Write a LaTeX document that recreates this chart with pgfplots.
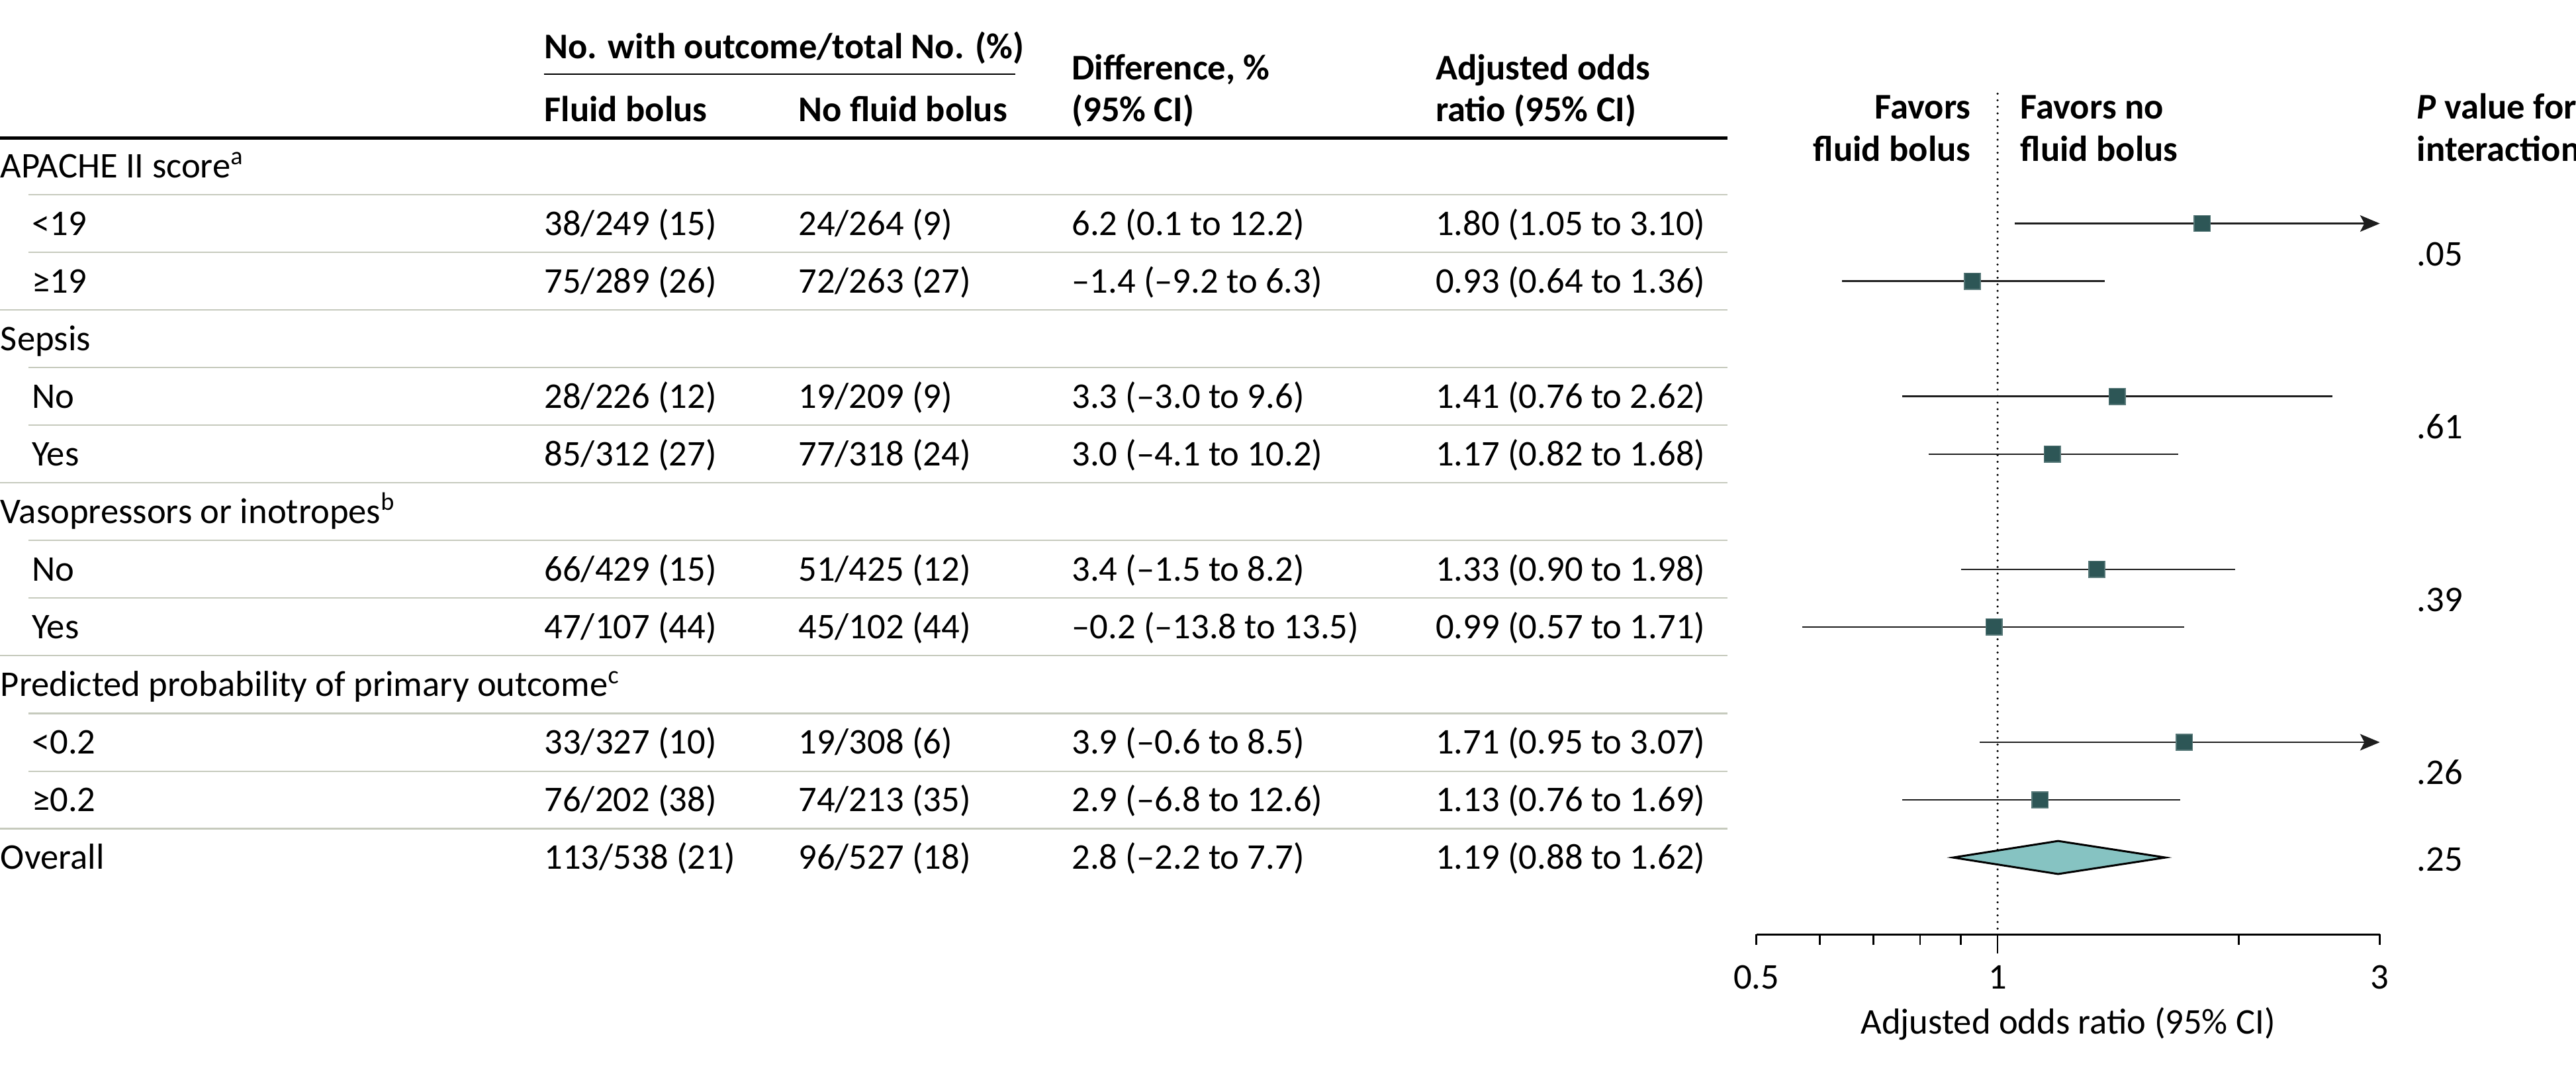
\documentclass[border=0pt]{standalone}
\usepackage{fontspec}
\setmainfont{Carlito}
\usepackage{pgfplots}
\pgfplotsset{compat=1.18}
\usetikzlibrary{arrows.meta}
\definecolor{mk}{HTML}{2D5656}
\definecolor{dia}{HTML}{86C3C2}
\definecolor{rl}{HTML}{C6CABD}
\definecolor{ci}{HTML}{1E1E1E}
\newcommand\tf{\fontsize{11}{13.2}\selectfont}

\begin{document}
\begin{tikzpicture}
\path[use as bounding box] (0pt,0pt) rectangle (784pt,-325.5pt);
\begin{axis}[
  at={(534.55pt,-284.3pt)}, anchor=south west,
  scale only axis, width=189.75pt, height=255.8pt,
  xmode=log, xmin=0.5, xmax=3, ymin=-568.6, ymax=-57,
  axis x line*=bottom, axis y line=none,
  axis line style={line width=0.5pt,-},
  x axis line style={-},
  xtick={0.5,1,3}, xticklabels={0.5,1,3},
  minor xtick={0.6,0.7,0.8,0.9,2},
  tick align=outside, major tick length=3.2pt, minor tick length=3.2pt,
  every tick/.style={black,line width=0.5pt},
  /pgf/number format/assume math mode=true,
  xticklabel style={font=\tf},
  xticklabel shift=2.65pt,
  xlabel={Adjusted odds ratio (95\% CI)},
  xlabel style={font=\tf, at={(axis description cs:0.5,0)}, anchor=center, yshift=-27.2pt},
  clip=false,
]
% line of no effect
\addplot[black, line width=0.7pt, dash pattern=on 0pt off 2pt, line cap=round] coordinates {(1,-57) (1,-568.6)};
% confidence intervals
\addplot[ci, line width=0.5pt, -{Stealth[length=6pt,width=5pt,inset=1.3pt]}] coordinates {(1.05,-136) (3,-136)};
\addplot[ci, line width=0.5pt] coordinates {(0.64,-171.07) (1.36,-171.07)};
\addplot[ci, line width=0.5pt] coordinates {(0.76,-241.21) (2.62,-241.21)};
\addplot[ci, line width=0.5pt] coordinates {(0.82,-276.28) (1.68,-276.28)};
\addplot[ci, line width=0.5pt] coordinates {(0.90,-346.42) (1.98,-346.42)};
\addplot[ci, line width=0.5pt] coordinates {(0.57,-381.49) (1.71,-381.49)};
\addplot[ci, line width=0.5pt, -{Stealth[length=6pt,width=5pt,inset=1.3pt]}] coordinates {(0.95,-451.63) (3,-451.63)};
\addplot[ci, line width=0.5pt] coordinates {(0.76,-486.7) (1.69,-486.7)};
% point estimates
\addplot[only marks, mark=square*, mark size=2.45pt, mark options={draw=mk!80!white, fill=mk, line width=0.3pt}]
  coordinates {(1.80,-136) (0.93,-171.07) (1.41,-241.21) (1.17,-276.28) (1.33,-346.42) (0.99,-381.49) (1.71,-451.63) (1.13,-486.7)};
% overall diamond
\addplot[draw=black, line width=0.6pt, fill=dia, line join=miter] coordinates {(0.88,-521.77) (1.19,-511.7) (1.62,-521.77) (1.19,-531.8)} -- cycle;
\draw[line width=0.5pt] (axis cs:1,-568.6) -- ++(0pt,-5.7pt);
\end{axis}

\begin{scope}[x=0.5pt,y=-0.5pt, every node/.style={inner sep=0pt, font=\tf}]
% header
\node[anchor=base west] at (331,35.8) {\bfseries No. with outcome/total No. (\%)};
\draw[line width=0.4pt] (331,45) -- (618,45);
\node[anchor=base west] at (331,74) {\bfseries Fluid bolus};
\node[anchor=base west] at (485.6,74) {\bfseries No fluid bolus};
\node[anchor=base west] at (652,48.6) {\bfseries Difference, \%};
\node[anchor=base west] at (652,74) {\bfseries (95\% CI)};
\node[anchor=base west] at (873.5,48.6) {\bfseries Adjusted odds};
\node[anchor=base west] at (873.5,74) {\bfseries ratio (95\% CI)};
\draw[line width=0.95pt] (0,84) -- (1051.6,84);
% forest headers
\node[anchor=base east] at (1200,72.3) {\bfseries Favors};
\node[anchor=base east] at (1200,98) {\bfseries fluid bolus};
\node[anchor=base west] at (1229.5,72.3) {\bfseries Favors no};
\node[anchor=base west] at (1229.5,98) {\bfseries fluid bolus};
\node[anchor=base west] at (1470.8,72.3) {\bfseries\itshape P\upshape\ value for};
\node[anchor=base west] at (1470.8,98) {\bfseries interaction};
% rules
\foreach \y in {118.5,153.5,223.7,258.7,328.9,363.9,434.1,469.2}{\draw[rl, line width=0.45pt] (17.5,\y) -- (1051.6,\y);}
\foreach \y in {188.6,293.8,399.0,504.2}{\draw[rl, line width=0.45pt] (0,\y) -- (1051.6,\y);}
% group headers
\node[anchor=base west] at (0,108.1) {APACHE II score\textsuperscript{a}};
\node[anchor=base west] at (0,213.3) {Sepsis};
\node[anchor=base west] at (0,318.5) {Vasopressors or inotropes\textsuperscript{b}};
\node[anchor=base west] at (0,423.8) {Predicted probability of primary outcome\textsuperscript{c}};
% rows
\newcommand\rw[6]{%
  \node[anchor=base west] at (#2,#1+7.2) {#3};
  \node[anchor=base west] at (331,#1+7.2) {#4};
  \node[anchor=base west] at (485.6,#1+7.2) {#5};
  \node[anchor=base west] at (652,#1+7.2) {#6};}
\rw{136}{19}{<19}{38/249 (15)}{24/264 (9)}{6.2 (0.1 to 12.2)}
\node[anchor=base west] at (873.5,143.2) {1.80 (1.05 to 3.10)};
\rw{171.07}{19}{≥19}{75/289 (26)}{72/263 (27)}{–1.4 (–9.2 to 6.3)}
\node[anchor=base west] at (873.5,178.27) {0.93 (0.64 to 1.36)};
\rw{241.21}{19}{No}{28/226 (12)}{19/209 (9)}{3.3 (–3.0 to 9.6)}
\node[anchor=base west] at (873.5,248.41) {1.41 (0.76 to 2.62)};
\rw{276.28}{19}{Yes}{85/312 (27)}{77/318 (24)}{3.0 (–4.1 to 10.2)}
\node[anchor=base west] at (873.5,283.48) {1.17 (0.82 to 1.68)};
\rw{346.42}{19}{No}{66/429 (15)}{51/425 (12)}{3.4 (–1.5 to 8.2)}
\node[anchor=base west] at (873.5,353.62) {1.33 (0.90 to 1.98)};
\rw{381.49}{19}{Yes}{47/107 (44)}{45/102 (44)}{–0.2 (–13.8 to 13.5)}
\node[anchor=base west] at (873.5,388.69) {0.99 (0.57 to 1.71)};
\rw{451.63}{19}{<0.2}{33/327 (10)}{19/308 (6)}{3.9 (–0.6 to 8.5)}
\node[anchor=base west] at (873.5,458.83) {1.71 (0.95 to 3.07)};
\rw{486.7}{19}{≥0.2}{76/202 (38)}{74/213 (35)}{2.9 (–6.8 to 12.6)}
\node[anchor=base west] at (873.5,493.9) {1.13 (0.76 to 1.69)};
\rw{521.77}{0}{Overall}{113/538 (21)}{96/527 (18)}{2.8 (–2.2 to 7.7)}
\node[anchor=base west] at (873.5,528.97) {1.19 (0.88 to 1.62)};
% P values for interaction
\node[anchor=base west] at (1470.8,161.7) {.05};
\node[anchor=base west] at (1470.8,266.9) {.61};
\node[anchor=base west] at (1470.8,372.1) {.39};
\node[anchor=base west] at (1470.8,477.4) {.26};
\node[anchor=base west] at (1470.8,529.9) {.25};
\end{scope}
\end{tikzpicture}
\end{document}
